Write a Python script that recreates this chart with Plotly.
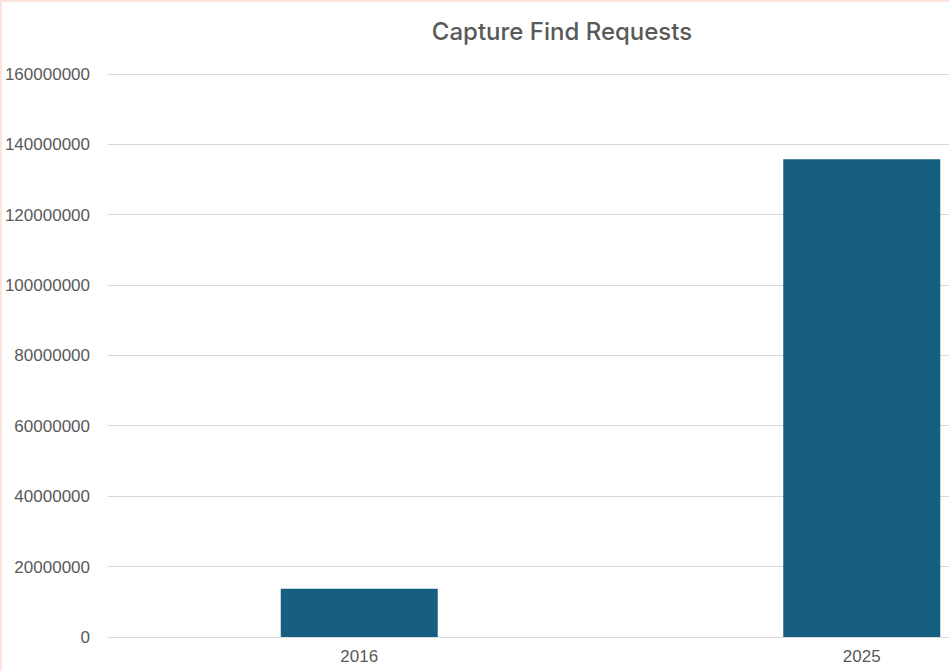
import plotly.graph_objects as go

categories = ["2016", "2025"]
values = [13700000, 135800000]
y_ticks = [0, 20000000, 40000000, 60000000, 80000000, 100000000, 120000000, 140000000, 160000000]
title_text = "Capture Find Requests"

W, H = 949, 671
ml, mr, mt, mb = 108, 0, 73, 34
plot_w = W - ml - mr
plot_h = H - mt - mb
cat_px = 502.5
y_max = 160300000

fig = go.Figure()
fig.add_trace(go.Bar(
    x=categories, y=values,
    marker=dict(color="#165F80", line=dict(width=0)),
    width=157 / cat_px,
))

fig.update_layout(
    width=W, height=H,
    margin=dict(l=ml, r=mr, t=mt, b=mb),
    paper_bgcolor="white", plot_bgcolor="white",
    showlegend=False,
    title=dict(text=title_text, x=562 / W, xanchor="center", xref="container",
               y=1 - 32 / H, yanchor="middle", yref="container",
               font=dict(family="Inter, Liberation Sans, sans-serif", size=24, weight=500, color="#595959")),
    font=dict(family="Liberation Sans, Arial, sans-serif", size=17, color="#595959"),
    xaxis=dict(type="category", range=[-0.5, -0.5 + plot_w / cat_px],
               showgrid=False, showline=False, zeroline=False, ticks="",
               ticklabelstandoff=7,
               tickfont=dict(size=17, color="#595959")),
    yaxis=dict(range=[0, y_max], tickvals=y_ticks, tickformat="d",
               showgrid=True, gridcolor="#D9D9D9", gridwidth=1,
               zeroline=True, zerolinecolor="#D9D9D9", zerolinewidth=1,
               showline=False, ticks="", ticklabelstandoff=17,
               tickfont=dict(size=17, color="#595959")),
    shapes=[
        dict(type="line", xref="paper", yref="paper",
             x0=-ml / plot_w, x1=1, y0=1 + (mt - 1) / plot_h, y1=1 + (mt - 1) / plot_h,
             line=dict(color="#FCE3DB", width=2), layer="above"),
        dict(type="line", xref="paper", yref="paper",
             x0=-(ml - 1) / plot_w, x1=-(ml - 1) / plot_w, y0=-mb / plot_h, y1=1 + mt / plot_h,
             line=dict(color="#FCE3DB", width=2), layer="above"),
    ],
)

fig.write_html("out.html", config={"displayModeBar": False},
               post_script="document.body.style.margin='0px';")
